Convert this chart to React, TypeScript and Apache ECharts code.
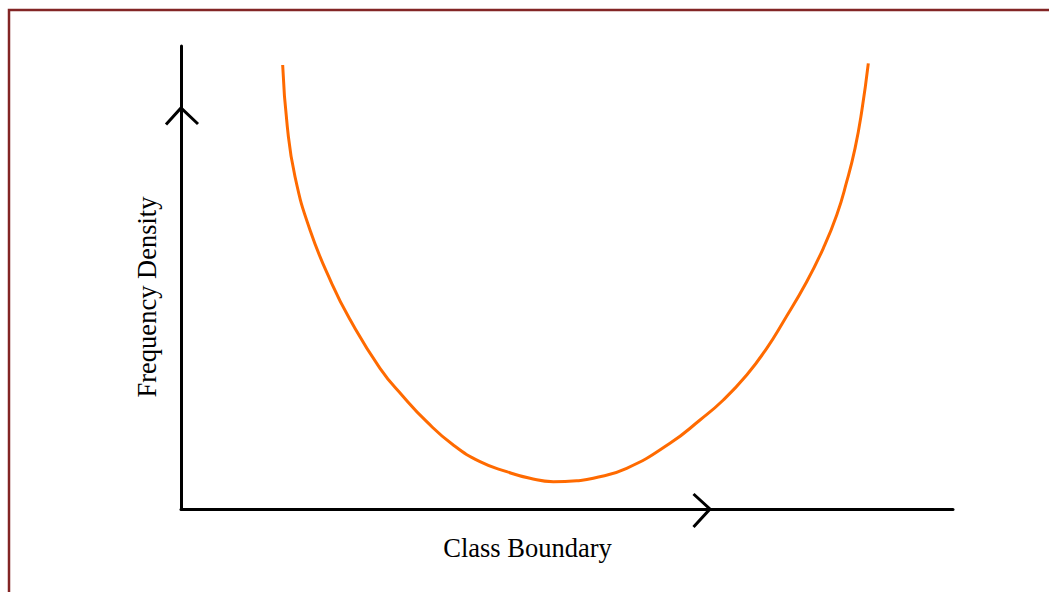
import React, { useEffect, useRef } from "react";
import * as echarts from "echarts";

// Curve points (x: class boundary, y: frequency density)
const curveX = [
  13.17, 13.77, 14.77, 16.71, 19.52, 21.8, 25.78, 28.8, 31.83, 35.27, 38.73, 42.19, 45.21, 48.23,
  51.26, 53.41, 57.73, 63.34, 67.23, 70.25, 73.28, 75.87, 78.02, 81.05, 83.2, 84.94, 86.23, 87.31,
  88.17, 89.03,
];
const curveY = [
  95.9, 82.57, 71.77, 60.26, 48.75, 41.19, 30.39, 24.26, 18.86, 13.82, 10.22, 8.06, 6.63, 5.9,
  6.11, 6.63, 8.79, 14.19, 19.22, 23.54, 28.94, 34.71, 40.45, 49.09, 56.31, 63.5, 70.69, 77.9,
  85.81, 96.26,
];
const xAxisName = "Class Boundary";
const yAxisName = "Frequency Density";

export default function App() {
  const ref = useRef<HTMLDivElement>(null);
  useEffect(() => {
    if (!ref.current) return;
    const chart = echarts.init(ref.current, null, { renderer: "svg" });
    const data = curveX.map((x, i) => [x, curveY[i]]);
    const font = "'Liberation Serif', 'Times New Roman', serif";
    chart.setOption({
      animation: false,
      backgroundColor: "#ffffff",
      grid: { left: 181, right: 96, top: 46, bottom: 83 },
      xAxis: {
        type: "value",
        min: 0,
        max: 100,
        axisLine: { show: true, lineStyle: { color: "#000", width: 3 } },
        axisTick: { show: false },
        axisLabel: { show: false },
        splitLine: { show: false },
      },
      yAxis: {
        type: "value",
        min: 0,
        max: 100,
        axisLine: { show: true, lineStyle: { color: "#000", width: 3 } },
        axisTick: { show: false },
        axisLabel: { show: false },
        splitLine: { show: false },
      },
      series: [
        {
          type: "line",
          data,
          smooth: 0.5,
          showSymbol: false,
          lineStyle: { color: "#ff6a00", width: 3 },
        },
      ],
      graphic: [
        {
          type: "rect",
          shape: { x: 9, y: 10, width: 1200, height: 800 },
          style: { fill: "none", stroke: "#832525", lineWidth: 2.5 },
          silent: true,
        },
        {
          type: "polyline",
          shape: { points: [[166, 124.5], [181, 108], [198, 124]] },
          style: { fill: "none", stroke: "#000", lineWidth: 3 },
          silent: true,
        },
        {
          type: "polyline",
          shape: { points: [[693.5, 494], [710, 509], [693.5, 527]] },
          style: { fill: "none", stroke: "#000", lineWidth: 3 },
          silent: true,
        },
        {
          type: "text",
          x: 527.5,
          y: 548,
          style: {
            text: xAxisName,
            font: `26.5px ${font}`,
            fill: "#000",
            align: "center",
            verticalAlign: "middle",
          },
        },
        {
          type: "text",
          x: 146.5,
          y: 297,
          rotation: Math.PI / 2,
          style: {
            text: yAxisName,
            font: `26.5px ${font}`,
            fill: "#000",
            align: "center",
            verticalAlign: "middle",
          },
        },
      ],
    });
    return () => chart.dispose();
  }, []);
  return (
    <div
      ref={ref}
      style={{ position: "absolute", left: 0, top: 0, width: 1049, height: 592 }}
    />
  );
}
